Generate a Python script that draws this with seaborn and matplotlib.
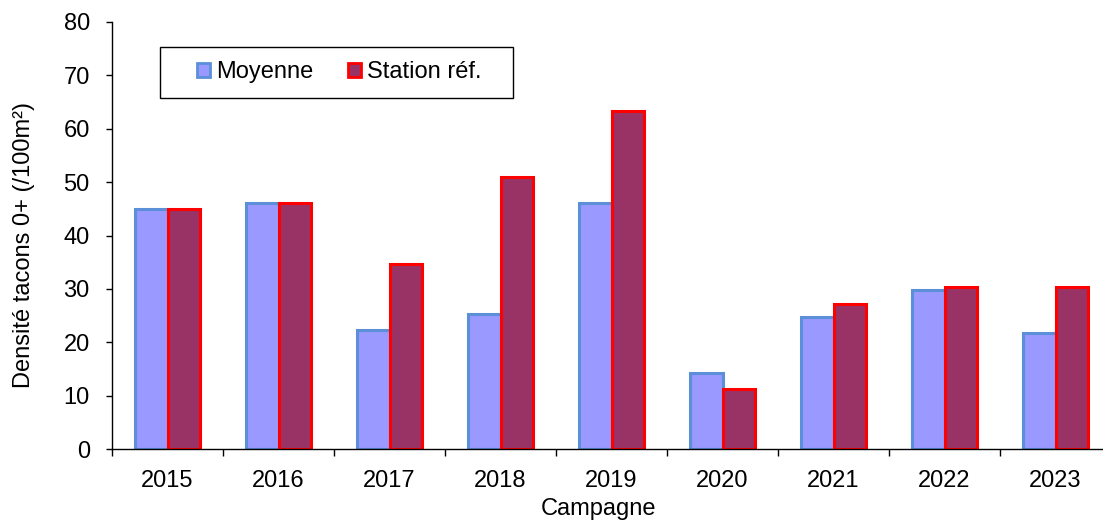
"""Densité tacons 0+ par campagne: moyenne vs station de référence"""

import matplotlib as mpl
import matplotlib.pyplot as plt
import numpy as np
import pandas as pd
import seaborn as sns
from matplotlib.patches import Rectangle

# data
campagnes = ["2015", "2016", "2017", "2018", "2019", "2020", "2021", "2022", "2023"]
moyenne = [45.0, 46.0, 22.3, 25.3, 46.0, 14.2, 24.8, 29.8, 21.7]
station_ref = [45.0, 46.0, 34.7, 51.0, 63.4, 11.2, 27.1, 30.4, 30.4]
series_names = ["Moyenne", "Station réf."]

fill_colors = ["#9999FF", "#993366"]
edge_colors = ["#5B8FD8", "#FF0000"]

FONT_SIZE = 17

sns.set_style("white")
plt.rcParams["font.family"] = ["Liberation Sans", "DejaVu Sans"]
plt.rc("font", size=FONT_SIZE)
plt.rc("text", color="black")
plt.rc("axes", labelcolor="black")
plt.rc("xtick", color="black")
plt.rc("ytick", color="black")

df = pd.DataFrame(
    {
        "Campagne": campagnes * 2,
        "Serie": [series_names[0]] * len(campagnes) + [series_names[1]] * len(campagnes),
        "Densite": moyenne + station_ref,
    }
)

fig = plt.figure(figsize=(11.03, 5.20), dpi=100)
ax = fig.add_axes([112 / 1103, 1 - 449 / 520, 999 / 1103, 427 / 520])

sns.barplot(
    data=df,
    x="Campagne",
    y="Densite",
    hue="Serie",
    hue_order=series_names,
    palette=fill_colors,
    width=0.58,
    gap=0,
    saturation=1,
    ax=ax,
    legend=False,
)

for container, ec in zip(ax.containers, edge_colors):
    for bar in container:
        bar.set_edgecolor(ec)
        bar.set_linewidth(2.2)

ax.set_xlim(-0.5, len(campagnes) - 0.5)
ax.set_ylim(0, 80)
ax.set_yticks(np.arange(0, 81, 10))

sns.despine(ax=ax)
for side in ("left", "bottom"):
    ax.spines[side].set_color("black")
    ax.spines[side].set_linewidth(1.0)

ax.tick_params(axis="y", direction="out", length=4, width=1, pad=12, labelsize=FONT_SIZE,
               left=True, colors="black")
ax.tick_params(axis="x", which="major", length=0, pad=15, labelsize=FONT_SIZE, colors="black")
ax.set_xticks(np.arange(-0.5, len(campagnes)), minor=True)
ax.tick_params(axis="x", which="minor", direction="out", length=5, width=1, bottom=True,
               colors="black")

ax.set_xlabel("Campagne", fontsize=FONT_SIZE, color="black")
ax.xaxis.set_label_coords(0.4865, -0.114)
ax.set_ylabel("Densité tacons 0+ (/100m²)", fontsize=FONT_SIZE, color="black")
ax.yaxis.set_label_coords(-0.077, 0.478)

# legend: frame drawn separately to match the padding of the original
handles = [
    Rectangle((0, 0), 1, 1, facecolor=fc, edgecolor=ec, linewidth=2)
    for fc, ec in zip(fill_colors, edge_colors)
]
ax.legend(
    handles,
    series_names,
    loc="center left",
    bbox_to_anchor=(0.085, 0.882),
    ncol=2,
    frameon=False,
    fontsize=FONT_SIZE,
    handlelength=0.55,
    handleheight=0.55,
    handletextpad=0.25,
    columnspacing=1.5,
    borderaxespad=0,
    borderpad=0,
    labelcolor="black",
)
ax.add_patch(
    Rectangle(
        (48 / 999, (449 - 98) / 427),
        353 / 999,
        51 / 427,
        transform=ax.transAxes,
        fill=False,
        edgecolor="black",
        linewidth=1.0,
        clip_on=False,
    )
)

fig.savefig("out.png", dpi=100)
